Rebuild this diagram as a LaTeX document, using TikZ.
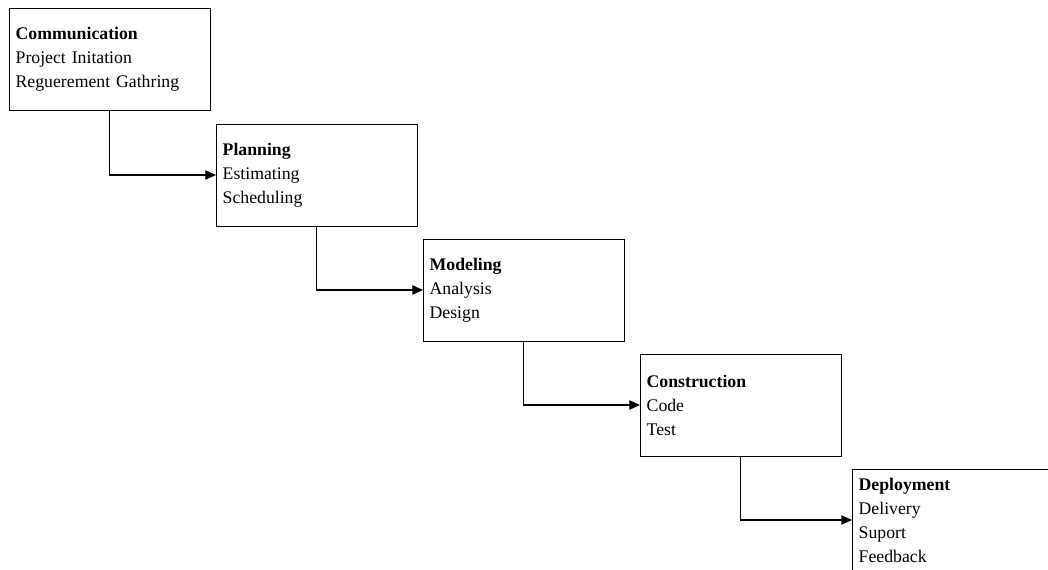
\documentclass[tikz,border=0pt]{standalone}
\usepackage{fontspec}
\setmainfont{Liberation Serif}
\usetikzlibrary{arrows.meta}
\begin{document}
\begin{tikzpicture}[x=0.75pt,y=-0.75pt,
  phase/.style={draw, line width=0.7pt, rectangle, anchor=north west,
    minimum width=151pt, minimum height=76.5pt, inner xsep=5pt, inner ysep=0pt,
    outer sep=0pt, text width=141pt, align=left,
    font=\fontsize{13.3}{18}\selectfont},
  flow/.style={line width=0.9pt, -{Triangle[length=8pt,width=7pt]}}]
\useasboundingbox (0,0) rectangle (1048,570);
\clip (0,0) rectangle (1048,570);
% process phases, stepping down to the right
\node[phase] (comm)   at (9,8)     {\textbf{Communication}\\Project Initation\\Reguerement Gathring};
\node[phase] (plan)   at (216,124) {\textbf{Planning}\\Estimating\\Scheduling};
\node[phase] (model)  at (423,239) {\textbf{Modeling}\\Analysis\\Design};
\node[phase] (constr) at (640,354) {\textbf{Construction}\\Code\\Test};
\node[phase] (deploy) at (852,469) {\textbf{Deployment}\\Delivery\\Suport\\Feedback};
% elbow connectors between consecutive phases
\draw[flow] (comm.south)   |- (plan.west);
\draw[flow] (plan.south)   |- (model.west);
\draw[flow] (model.south)  |- (constr.west);
\draw[flow] (constr.south) |- (deploy.west);
\end{tikzpicture}
\end{document}
